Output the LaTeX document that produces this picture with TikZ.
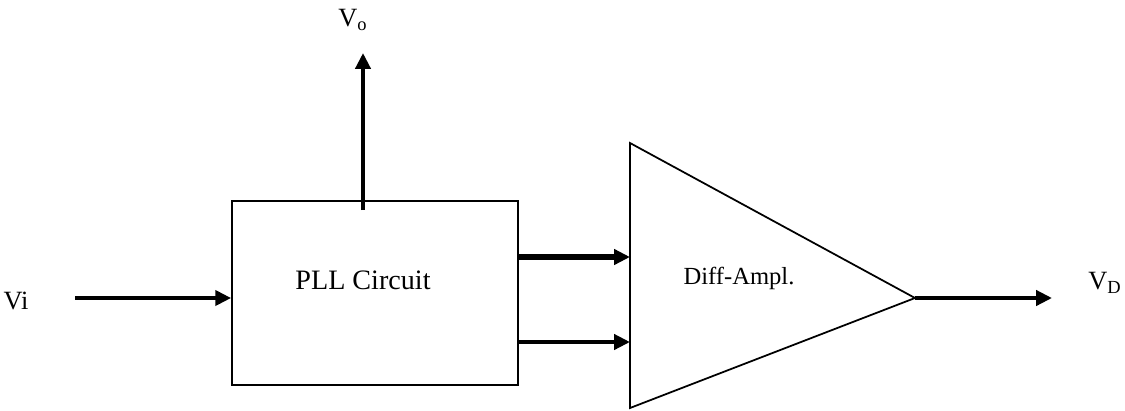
\documentclass[tikz,border=0pt]{standalone}
\usepackage{fontspec}
\setmainfont{Liberation Serif}
\usetikzlibrary{arrows.meta, positioning, calc}

\begin{document}
\begin{tikzpicture}[
      x=0.02cm, y=-0.02cm,
      box/.style={
        rectangle, draw, line width=1pt,
        minimum width=5.72cm, minimum height=3.68cm, inner sep=0pt
      },
      ampl/.style={draw, line width=1pt, line join=miter},
      sig/.style={-{Triangle[length=9pt, width=8.5pt]}, line width=2.2pt},
      bigsig/.style={sig, line width=3pt},
      lbl/.style={font=\fontsize{15}{18}\selectfont, inner sep=0pt},
      txt/.style={inner sep=0pt}
    ]
      \useasboundingbox (0,0) rectangle (1125,410);

      % PLL block
      \node[box] (pll) at (375,293) {};
      \node[txt, font=\fontsize{16}{19}\selectfont] (plltext) at (363,280) {PLL Circuit};

      % Differential amplifier
      \coordinate (amptop) at (630,143);
      \coordinate (ampbot) at (630,408);
      \coordinate (amptip) at (915,298);
      \draw[ampl] (amptop) -- (amptip) -- (ampbot) -- cycle;
      \node[txt, font=\fontsize{14}{17}\selectfont] (amptext) at (739,278) {Diff-Ampl.};
      \coordinate (ampin1) at (630,257);
      \coordinate (ampin2) at (630,342);

      % Terminals
      \node[lbl] (vi) at (16,301) {Vi};
      \coordinate (viend) at (75,298);
      \node[lbl] (vo) at (353,20) {V\textsubscript{o}};
      \coordinate (votip) at (363,53);
      \node[lbl] (vd) at (1105,283) {V\textsubscript{D}};
      \coordinate (vdtip) at (1052,298);

      \draw[sig] (viend) -- (pll.west |- viend);
      \draw[sig] ($(pll.north -| votip)+(0,10)$) -- (votip);
      \draw[bigsig] (pll.east |- ampin1) -- (ampin1);
      \draw[sig] (pll.east |- ampin2) -- (ampin2);
      \draw[sig] (amptip) -- (vdtip);
    \end{tikzpicture}
\end{document}
